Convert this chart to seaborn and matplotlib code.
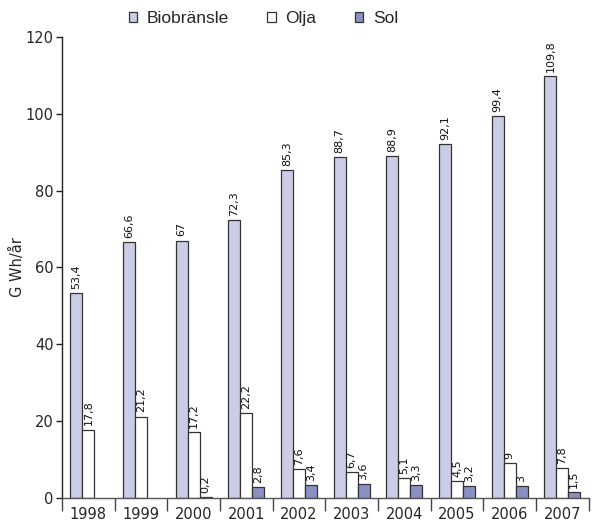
import numpy as np
import pandas as pd
import matplotlib
matplotlib.use("Agg")
import matplotlib.pyplot as plt
from matplotlib.patches import Rectangle
import seaborn as sns

years = ["1998", "1999", "2000", "2001", "2002", "2003", "2004", "2005", "2006", "2007"]
series = ["Biobränsle", "Olja", "Sol"]
bio = [53.4, 66.6, 67, 72.3, 85.3, 88.7, 88.9, 92.1, 99.4, 109.8]
olja = [17.8, 21.2, 17.2, 22.2, 7.6, 6.7, 5.1, 4.5, 9, 7.8]
sol = [np.nan, np.nan, 0.2, 2.8, 3.4, 3.6, 3.3, 3.2, 3, 1.5]
colors = ["#cbcce6", "#ffffff", "#8a90c4"]

df = pd.DataFrame({
    "år": years * 3,
    "serie": [s for s in series for _ in years],
    "värde": bio + olja + sol,
})

sns.set_theme(style="white")
plt.rcParams["font.family"] = ["DejaVu Sans"]

fig = plt.figure(figsize=(5.93, 5.21), dpi=100)
ax = fig.add_axes([0.1046, 0.0441, 0.888, 0.885])

sns.barplot(data=df, x="år", y="värde", hue="serie", hue_order=series,
            palette=colors, order=years, width=0.68, dodge=True,
            edgecolor="#333333", linewidth=0.9, saturation=1,
            legend=False, ax=ax)

def fmt(v):
    return f"{v:g}".replace(".", ",")

for cont in ax.containers:
    labels = [fmt(v) if np.isfinite(v) else "" for v in cont.datavalues]
    ax.bar_label(cont, labels=labels, rotation=90, padding=3,
                 fontsize=8, color="#111111")

ax.set_ylim(0, 120)
ax.set_xlim(-0.5, len(years) - 0.5)
ax.set_yticks(range(0, 121, 20))
ax.set_ylabel("G Wh/år", fontsize=10.5)
ax.yaxis.set_label_coords(-0.071, 0.5)
ax.set_xlabel("")

for side in ["top", "right"]:
    ax.spines[side].set_visible(False)
ax.spines["left"].set_color("#222222")
ax.spines["bottom"].set_color("#555555")
ax.spines["left"].set_linewidth(1)
ax.spines["bottom"].set_linewidth(1)

ax.tick_params(axis="y", which="major", left=True, length=4, width=1,
               color="#222222", labelsize=10.5, pad=2)
ax.tick_params(axis="x", which="major", bottom=False, labelsize=10.5, pad=0.5)
ax.set_xticks(np.arange(-0.5, len(years), 1.0), minor=True)
ax.tick_params(axis="x", which="minor", bottom=True, length=9, width=1,
               color="#444444")

handles = [Rectangle((0, 0), 1, 1, facecolor=c, edgecolor="#333333",
                     linewidth=0.9) for c in colors]
fig.legend(handles, series, loc="upper center", bbox_to_anchor=(0.444, 1.008),
           ncol=3, frameon=False, handlelength=0.5, handleheight=0.5,
           handletextpad=0.55, columnspacing=2.2,
           prop={"family": ["Liberation Sans"], "size": 12.5})

fig.savefig("out.png", dpi=100)
